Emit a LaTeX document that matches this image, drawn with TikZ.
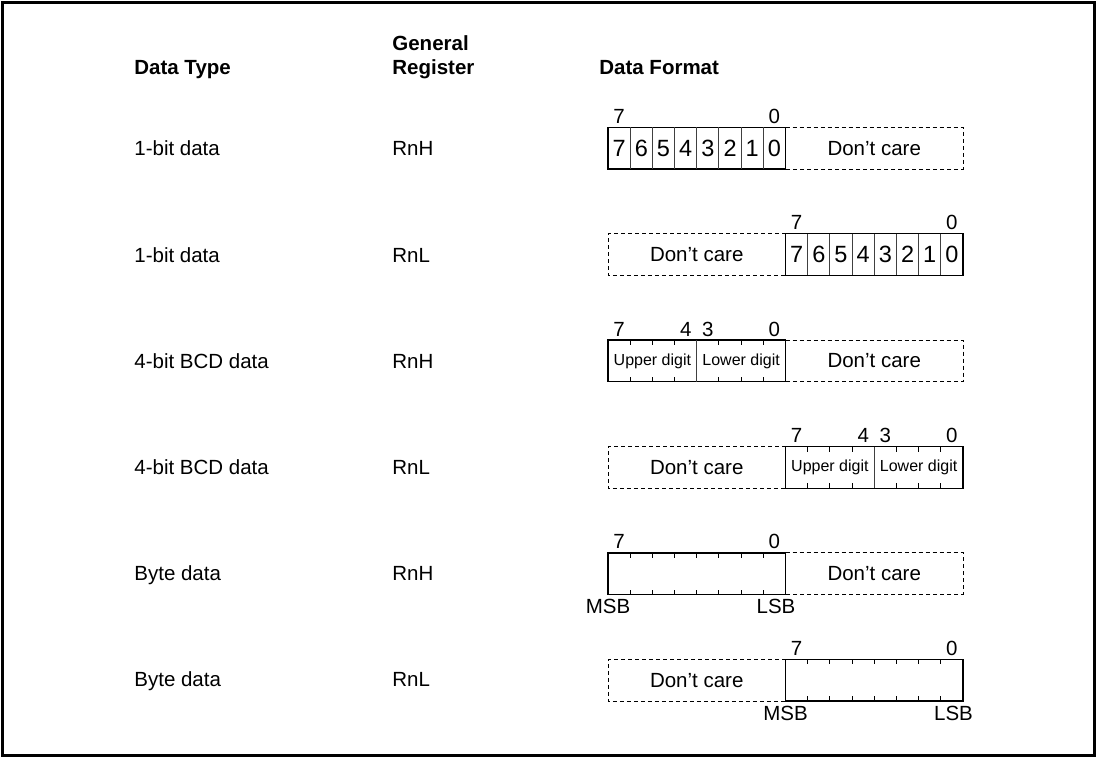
\documentclass[tikz,border=0pt]{standalone}
\usepackage{fontspec}
\setmainfont{Liberation Sans}
\tikzset{every picture/.style={line width=0.75pt}}
\tikzset{
	txt/.style={font=\fontsize{20.5}{24}\selectfont, inner sep=0pt},
	hdr/.style={font=\fontsize{20.5}{24}\selectfont\bfseries, inner sep=0pt},
	bitnum/.style={font=\fontsize{23.5}{28}\selectfont, inner sep=0pt},
	digit/.style={font=\fontsize{16}{18}\selectfont, inner sep=0pt},
	regbox/.style={line width=1.3pt},
	celldiv/.style={line width=0.9pt, black!75},
	dontcare/.style={line width=1pt, dash pattern=on 4pt off 3pt},
	tickmark/.style={line width=0.9pt}}

\begin{document}
\begin{tikzpicture}[x=1pt,y=1pt,yscale=-1,xscale=1]
	\useasboundingbox (0,0) rectangle (1099,756);

	%Shape: Rectangle [frame]
	\draw [line width=3pt] (2.5,2) rectangle (1094.5,755);

	% Text Node
	\node [hdr, anchor=base west] (hType) at (134,74) {Data Type};
	% Text Node
	\node [hdr, anchor=base west] (hGen) at (392,50) {General};
	% Text Node
	\node [hdr, anchor=base west] (hReg) at (392,74) {Register};
	% Text Node
	\node [hdr, anchor=base west] (hFmt) at (599,74) {Data Format};

	%%% row 1 : 1-bit data, RnH
	% Text Node
	\node [txt, anchor=base west] (typeA) at (134,155.7) {1-bit data};
	% Text Node
	\node [txt, anchor=base west] (regA) at (392,155.7) {RnH};
	%Shape: Rectangle
	\draw [regbox] (608,127.3) rectangle (785.5,169);
	\foreach \i in {1,...,7}
		\draw [celldiv] ({608+22.1875*\i},127.3) -- ++(0,41.7);
	\foreach \i in {1,...,8}
		\node [bitnum] (bitA\i) at ({608+22.1875*(\i-0.5)},148.2) {\the\numexpr8-\i\relax};
	%Shape: dashed box
	\draw [dontcare] (785.5,127.3) -- (963,127.3) -- (963,169) -- (785.5,169);
	% Text Node
	\node [txt] (dcA) at (874.25,148.2) {Don’t care};
	% Text Node
	\node [txt, anchor=base] (hiA) at (619.1,123.3) {7};
	% Text Node
	\node [txt, anchor=base] (loA) at (774.4,123.3) {0};

	%%% row 2 : 1-bit data, RnL
	% Text Node
	\node [txt, anchor=base west] (typeB) at (134,262.1) {1-bit data};
	% Text Node
	\node [txt, anchor=base west] (regB) at (392,262.1) {RnL};
	%Shape: dashed box
	\draw [dontcare] (785.5,233.7) -- (608,233.7) -- (608,275.4) -- (785.5,275.4);
	% Text Node
	\node [txt] (dcB) at (696.75,254.6) {Don’t care};
	%Shape: Rectangle
	\draw [regbox] (785.5,233.7) rectangle (963,275.4);
	\foreach \i in {1,...,7}
		\draw [celldiv] ({785.5+22.1875*\i},233.7) -- ++(0,41.7);
	\foreach \i in {1,...,8}
		\node [bitnum] (bitB\i) at ({785.5+22.1875*(\i-0.5)},254.6) {\the\numexpr8-\i\relax};
	% Text Node
	\node [txt, anchor=base] (hiB) at (796.6,229.7) {7};
	% Text Node
	\node [txt, anchor=base] (loB) at (951.9,229.7) {0};

	%%% row 3 : 4-bit BCD data, RnH
	% Text Node
	\node [txt, anchor=base west] (typeC) at (134,368.5) {4-bit BCD data};
	% Text Node
	\node [txt, anchor=base west] (regC) at (392,368.5) {RnH};
	%Shape: Rectangle
	\draw [regbox] (608,340.1) rectangle (785.5,381.8);
	\draw [celldiv] (696.75,340.1) -- ++(0,41.7);
	\foreach \i in {1,2,3,5,6,7} {
		\draw [tickmark] ({608+22.1875*\i},340.1) -- ++(0,5);
		\draw [tickmark] ({608+22.1875*\i},381.8) -- ++(0,-5);}
	% Text Node
	\node [digit] (upC) at (652.4,361) {Upper digit};
	% Text Node
	\node [digit] (lowC) at (741.1,361) {Lower digit};
	%Shape: dashed box
	\draw [dontcare] (785.5,340.1) -- (963,340.1) -- (963,381.8) -- (785.5,381.8);
	% Text Node
	\node [txt] (dcC) at (874.25,361) {Don’t care};
	% Text Node
	\node [txt, anchor=base] (hiC) at (619.1,336.1) {7};
	% Text Node
	\node [txt, anchor=base] (fourC) at (685.7,336.1) {4};
	% Text Node
	\node [txt, anchor=base] (threeC) at (707.8,336.1) {3};
	% Text Node
	\node [txt, anchor=base] (loC) at (774.4,336.1) {0};

	%%% row 4 : 4-bit BCD data, RnL
	% Text Node
	\node [txt, anchor=base west] (typeD) at (134,474.9) {4-bit BCD data};
	% Text Node
	\node [txt, anchor=base west] (regD) at (392,474.9) {RnL};
	%Shape: dashed box
	\draw [dontcare] (785.5,446.5) -- (608,446.5) -- (608,488.2) -- (785.5,488.2);
	% Text Node
	\node [txt] (dcD) at (696.75,467.4) {Don’t care};
	%Shape: Rectangle
	\draw [regbox] (785.5,446.5) rectangle (963,488.2);
	\draw [celldiv] (874.25,446.5) -- ++(0,41.7);
	\foreach \i in {1,2,3,5,6,7} {
		\draw [tickmark] ({785.5+22.1875*\i},446.5) -- ++(0,5);
		\draw [tickmark] ({785.5+22.1875*\i},488.2) -- ++(0,-5);}
	% Text Node
	\node [digit] (upD) at (829.9,467.4) {Upper digit};
	% Text Node
	\node [digit] (lowD) at (918.6,467.4) {Lower digit};
	% Text Node
	\node [txt, anchor=base] (hiD) at (796.6,442.5) {7};
	% Text Node
	\node [txt, anchor=base] (fourD) at (863.2,442.5) {4};
	% Text Node
	\node [txt, anchor=base] (threeD) at (885.3,442.5) {3};
	% Text Node
	\node [txt, anchor=base] (loD) at (951.9,442.5) {0};

	%%% row 5 : Byte data, RnH
	% Text Node
	\node [txt, anchor=base west] (typeE) at (134,580.3) {Byte data};
	% Text Node
	\node [txt, anchor=base west] (regE) at (392,580.3) {RnH};
	%Shape: Rectangle
	\draw [regbox] (608,552.9) rectangle (785.5,594.6);
	\foreach \i in {1,...,7} {
		\draw [tickmark] ({608+22.1875*\i},552.9) -- ++(0,5);
		\draw [tickmark] ({608+22.1875*\i},594.6) -- ++(0,-5);}
	%Shape: dashed box
	\draw [dontcare] (785.5,552.9) -- (963,552.9) -- (963,594.6) -- (785.5,594.6);
	% Text Node
	\node [txt] (dcE) at (874.25,573.8) {Don’t care};
	% Text Node
	\node [txt, anchor=base] (hiE) at (619.1,548.9) {7};
	% Text Node
	\node [txt, anchor=base] (loE) at (774.4,548.9) {0};
	% Text Node
	\node [txt, anchor=base] (msbE) at (608,613.6) {MSB};
	% Text Node
	\node [txt, anchor=base] (lsbE) at (776,613.6) {LSB};

	%%% row 6 : Byte data, RnL
	% Text Node
	\node [txt, anchor=base west] (typeF) at (134,686.7) {Byte data};
	% Text Node
	\node [txt, anchor=base west] (regF) at (392,686.7) {RnL};
	%Shape: dashed box
	\draw [dontcare] (785.5,659.3) -- (608,659.3) -- (608,701) -- (785.5,701);
	% Text Node
	\node [txt] (dcF) at (696.75,680.2) {Don’t care};
	%Shape: Rectangle
	\draw [regbox] (785.5,659.3) rectangle (963,701);
	\foreach \i in {1,...,7} {
		\draw [tickmark] ({785.5+22.1875*\i},659.3) -- ++(0,5);
		\draw [tickmark] ({785.5+22.1875*\i},701) -- ++(0,-5);}
	% Text Node
	\node [txt, anchor=base] (hiF) at (796.6,655.3) {7};
	% Text Node
	\node [txt, anchor=base] (loF) at (951.9,655.3) {0};
	% Text Node
	\node [txt, anchor=base] (msbF) at (785.5,720) {MSB};
	% Text Node
	\node [txt, anchor=base] (lsbF) at (953.5,720) {LSB};

\end{tikzpicture}
\end{document}
